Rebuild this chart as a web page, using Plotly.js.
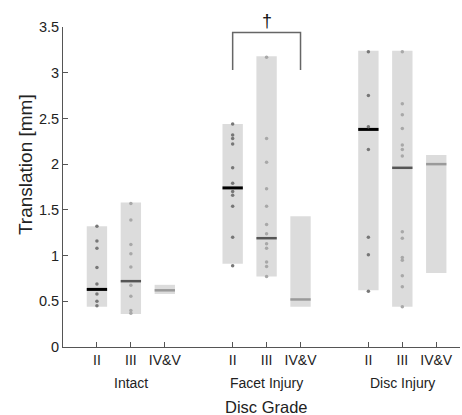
<!DOCTYPE html>
<html>
<head>
<meta charset="utf-8">
<script src="https://cdn.plot.ly/plotly-3.0.1.min.js"></script>
<style>html,body{margin:0;padding:0;background:#fff;}#chart{width:462px;height:415px;}</style>
</head>
<body>
<div id="chart"></div>
<script>
// ---- data ----
const groups = ['Intact', 'Facet Injury', 'Disc Injury'];
const groupCenters = [2, 6, 10];
const grades = ['II', 'III', 'IV&V'];
const xPos = [1, 2, 3, 5, 6, 7, 9, 10, 11];
const tickText = ['II', 'III', 'IV&V', 'II', 'III', 'IV&V', 'II', 'III', 'IV&V'];
const minVals = [0.44, 0.36, 0.58, 0.91, 0.77, 0.44, 0.62, 0.44, 0.81];
const maxVals = [1.32, 1.58, 0.68, 2.44, 3.18, 1.43, 3.24, 3.24, 2.10];
const medians = [0.63, 0.72, 0.62, 1.74, 1.19, 0.52, 2.38, 1.96, 2.00];
const intactII = [1.32, 1.16, 1.08, 0.87, 0.69, 0.58, 0.50, 0.45];
const intactIII = [1.57, 1.39, 1.12, 1.02, 0.875, 0.675, 0.555, 0.40, 0.37];
const intactIVV = [];
const facetII = [2.44, 2.32, 2.28, 2.22, 1.96, 1.79, 1.70, 1.66, 1.54, 1.20, 0.89];
const facetIII = [3.17, 2.28, 2.02, 1.73, 1.54, 1.34, 1.24, 1.13, 1.08, 0.93, 0.88, 0.77];
const facetIVV = [];
const discII = [3.23, 2.75, 2.41, 2.16, 1.20, 1.01, 0.61];
const discIII = [3.23, 2.66, 2.54, 2.39, 2.21, 2.16, 2.09, 1.26, 1.19, 0.98, 0.95, 0.78, 0.66, 0.44];
const discIVV = [];
const pointSets = [intactII, intactIII, intactIVV, facetII, facetIII, facetIVV, discII, discIII, discIVV];
const bracketX = [5, 7];
const bracketY = [3.03, 3.44];
const bracketLabel = '\u2020';

// ---- styles ----
const barW = 0.6;
const medianColors = ['#000000', '#555555', '#9a9a9a'];
const medianWidths = [3, 2.5, 2.5];
const dotColors = ['#777777', '#a8a8a8', '#aaaaaa'];
const FONT = 'Liberation Sans, Arial, sans-serif';

const traces = [];
traces.push({
  type: 'bar', x: xPos,
  y: maxVals.map((v, i) => v - minVals[i]),
  base: minVals, width: barW,
  marker: {color: '#dcdcdc', line: {width: 0}},
  hoverinfo: 'skip', showlegend: false
});
// medians by grade
for (let g = 0; g < 3; g++) {
  const mx = [], my = [];
  xPos.forEach((x, i) => {
    if (i % 3 === g) { mx.push(x - barW / 2, x + barW / 2, null); my.push(medians[i], medians[i], null); }
  });
  traces.push({type: 'scatter', mode: 'lines', x: mx, y: my,
    line: {color: medianColors[g], width: medianWidths[g]}, showlegend: false, hoverinfo: 'skip'});
}
// points
pointSets.forEach((pts, i) => {
  if (!pts.length) return;
  traces.push({type: 'scatter', mode: 'markers', x: pts.map(() => xPos[i]), y: pts,
    marker: {color: dotColors[i % 3], size: 3.5, symbol: 'circle'}, showlegend: false, hoverinfo: 'skip'});
});
// bracket
traces.push({type: 'scatter', mode: 'lines',
  x: [bracketX[0], bracketX[0], bracketX[1], bracketX[1]],
  y: [bracketY[0], bracketY[1], bracketY[1], bracketY[0]],
  line: {color: '#666666', width: 1.5}, showlegend: false, hoverinfo: 'skip', cliponaxis: false});

const annotations = [];
groups.forEach((g, i) => annotations.push({
  text: g, x: groupCenters[i], xref: 'x', y: 0, yref: 'paper', yanchor: 'middle', yshift: -36,
  showarrow: false, font: {family: FONT, size: 14, color: '#222'}
}));
annotations.push({text: 'Disc Grade', x: 6, xref: 'x', y: 0, yref: 'paper', yanchor: 'middle', yshift: -60,
  showarrow: false, font: {family: FONT, size: 16.5, color: '#222'}});
annotations.push({text: 'Translation [mm]', x: 0, xref: 'paper', xshift: -38, y: 1.99, yref: 'y',
  textangle: -90, xanchor: 'center', yanchor: 'middle', showarrow: false,
  font: {family: FONT, size: 19, color: '#222'}});
annotations.push({text: bracketLabel, x: (bracketX[0] + bracketX[1]) / 2, xref: 'x', y: 1, yref: 'paper',
  yshift: 6, showarrow: false, yanchor: 'middle', font: {family: FONT, size: 18, color: '#111'}});

const layout = {
  width: 462, height: 415,
  margin: {l: 63, r: 2, t: 27, b: 68, pad: 0},
  paper_bgcolor: '#fff', plot_bgcolor: '#fff',
  showlegend: false,
  xaxis: {range: [0, 11.7], tickvals: xPos, ticktext: tickText, ticks: 'inside', ticklen: 5,
    tickcolor: '#555', showline: true, linecolor: '#555', linewidth: 1, showgrid: false, zeroline: false,
    tickfont: {family: FONT, size: 14, color: '#222'}, fixedrange: true},
  yaxis: {range: [0, 3.5], dtick: 0.5, tick0: 0, ticks: 'inside', ticklen: 5, tickcolor: '#555',
    showline: true, linecolor: '#555', linewidth: 1, showgrid: false, zeroline: false,
    tickfont: {family: FONT, size: 14.5, color: '#222'}, fixedrange: true},
  annotations: annotations
};
Plotly.newPlot('chart', traces, layout, {displayModeBar: false, staticPlot: true});
</script>
</body>
</html>
